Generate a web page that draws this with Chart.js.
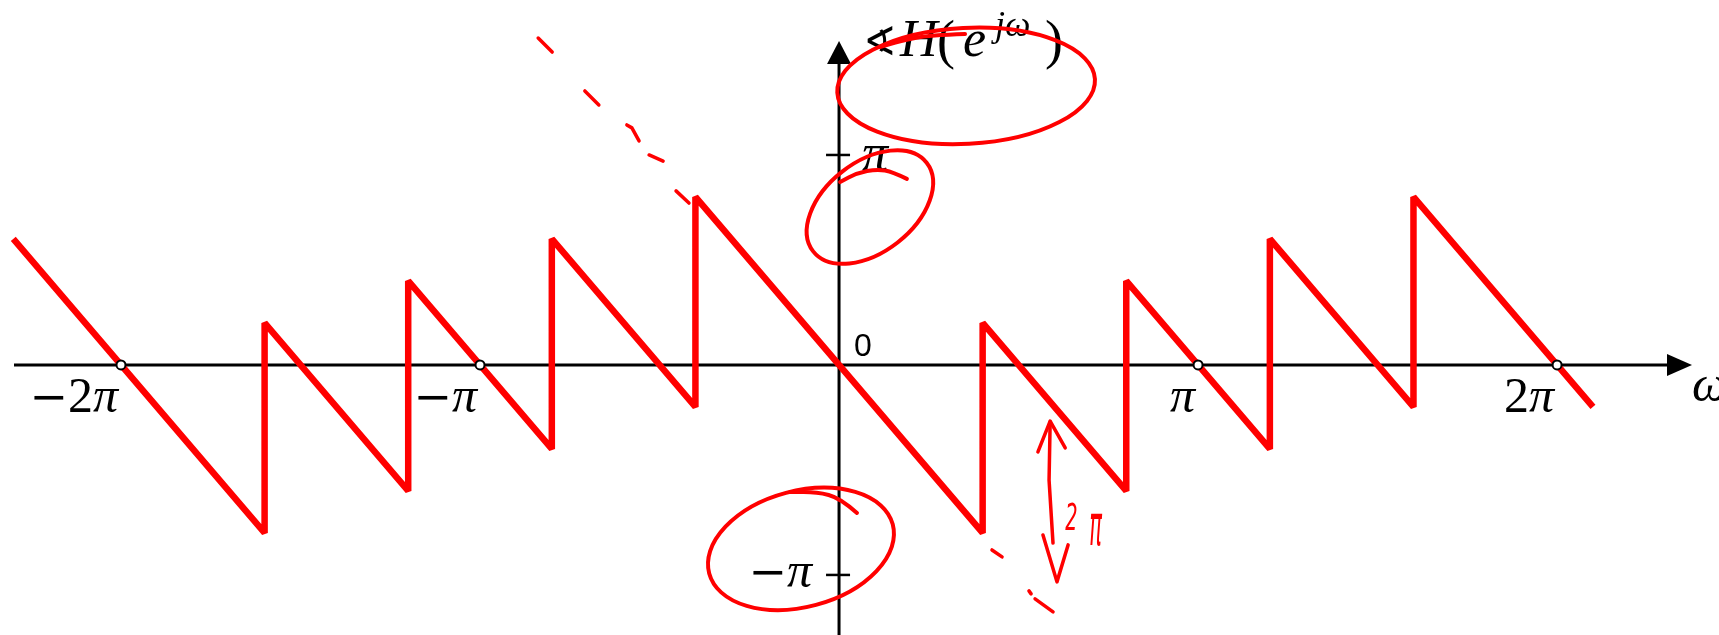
<!DOCTYPE html>
<html>
<head>
<meta charset="utf-8">
<script src="https://cdn.jsdelivr.net/npm/chart.js@4.4.0/dist/chart.umd.min.js"></script>
<style>
  html, body { margin: 0; padding: 0; background: #fff; overflow: hidden; }
</style>
</head>
<body>
<canvas id="phase" width="1719" height="635"></canvas>
<script>
// frequency and phase, both in multiples of pi
var omega = [-2.3, -1.6, -1.6, -1.2, -1.2, -0.8, -0.8, -0.4, -0.4, 0, 0.4, 0.4, 0.8, 0.8, 1.2, 1.2, 1.6, 1.6, 2.1];
var phase = [0.6, -0.8, 0.2, -0.6, 0.4, -0.4, 0.6, -0.2, 0.8, 0, -0.8, 0.2, -0.6, 0.4, -0.4, 0.6, -0.2, 0.8, -0.2];

var xTicks = [-2, -1, 1, 2];
var xTickLabels = ['\u22122\u03c0', '\u2212\u03c0', '\u03c0', '2\u03c0'];
var yTicks = [1, -1];
var yTickLabels = ['\u03c0', '\u2212\u03c0'];

var SERIF = '"Liberation Serif", "DejaVu Serif", serif';

// variables italic, digits upright, and a long minus sign
function fontFor(ch, size) {
  if (ch === '\u2212') return (size * 0.92) + 'px "DejaVu Serif", serif';
  if (/[\u03c0\u03c9Hej]/.test(ch)) return 'italic ' + size + 'px ' + SERIF;
  return size + 'px ' + SERIF;
}

function drawMath(ctx, text, x, y, size, align) {
  var parts = [];
  for (var i = 0; i < text.length; i++) {
    parts.push({ t: text[i], font: fontFor(text[i], size) });
  }
  var total = 0;
  parts.forEach(function (p) { ctx.font = p.font; p.w = ctx.measureText(p.t).width; total += p.w; });
  var cx = align === 'right' ? x - total : x;
  ctx.textAlign = 'left';
  ctx.textBaseline = 'alphabetic';
  parts.forEach(function (p) { ctx.font = p.font; ctx.fillText(p.t, cx, y); cx += p.w; });
}

var axesPlugin = {
  id: 'axes',
  beforeDatasetsDraw: function (chart) {
    var ctx = chart.ctx, xs = chart.scales.x, ys = chart.scales.y;
    var x0 = xs.getPixelForValue(0), y0 = ys.getPixelForValue(0);
    ctx.save();
    ctx.strokeStyle = '#000';
    ctx.fillStyle = '#000';
    ctx.lineWidth = 3;
    // horizontal axis with arrow
    ctx.beginPath();
    ctx.moveTo(14, y0);
    ctx.lineTo(1675, y0);
    ctx.stroke();
    ctx.beginPath();
    ctx.moveTo(1692, y0);
    ctx.lineTo(1667, y0 - 11);
    ctx.lineTo(1667, y0 + 11);
    ctx.closePath();
    ctx.fill();
    // vertical axis with arrow
    ctx.beginPath();
    ctx.moveTo(x0, chart.height);
    ctx.lineTo(x0, 60);
    ctx.stroke();
    ctx.beginPath();
    ctx.moveTo(x0, 41);
    ctx.lineTo(x0 - 12, 64);
    ctx.lineTo(x0 + 12, 64);
    ctx.closePath();
    ctx.fill();
    // tick marks on the vertical axis
    ctx.lineWidth = 2.5;
    yTicks.forEach(function (v) {
      var py = ys.getPixelForValue(v);
      ctx.beginPath();
      ctx.moveTo(x0 - 13, py);
      ctx.lineTo(x0 + 11, py);
      ctx.stroke();
    });
    ctx.restore();
  },
  afterDatasetsDraw: function (chart) {
    var ctx = chart.ctx, xs = chart.scales.x, ys = chart.scales.y;
    var x0 = xs.getPixelForValue(0), y0 = ys.getPixelForValue(0);
    ctx.save();
    ctx.fillStyle = '#000';
    // open circles and labels at multiples of pi
    xTicks.forEach(function (v, i) {
      var px = xs.getPixelForValue(v);
      ctx.beginPath();
      ctx.arc(px, y0, 4.5, 0, Math.PI * 2);
      ctx.fillStyle = '#fff';
      ctx.fill();
      ctx.lineWidth = 2;
      ctx.strokeStyle = '#000';
      ctx.stroke();
      ctx.fillStyle = '#000';
      drawMath(ctx, xTickLabels[i], px - 3, y0 + 47, 50, 'right');
    });
    // vertical axis labels
    drawMath(ctx, yTickLabels[0], x0 + 23, ys.getPixelForValue(yTicks[0]) + 15, 52, 'left');
    drawMath(ctx, yTickLabels[1], x0 - 27, ys.getPixelForValue(yTicks[1]) + 12, 50, 'right');
    // origin
    ctx.font = '32px "Liberation Sans", Arial, sans-serif';
    ctx.textAlign = 'left';
    ctx.fillText('0', x0 + 15, y0 - 9);
    // axis names
    drawMath(ctx, '\u03c9', 1692, y0 + 36, 50, 'left');
    ctx.font = '40px "DejaVu Sans", sans-serif';
    ctx.fillText('\u2222', x0 + 24, 55);
    drawMath(ctx, 'H', x0 + 61, 56, 52, 'left');
    drawMath(ctx, '(', x0 + 98, 58, 54, 'left');
    drawMath(ctx, 'e', x0 + 124, 56, 52, 'left');
    drawMath(ctx, 'j\u03c9', x0 + 156, 36, 36, 'left');
    drawMath(ctx, ')', x0 + 206, 58, 54, 'left');
    ctx.restore();
  }
};

// red pen marks on top of the plot
var loops = [
  { x: 0.354, y: 1.329, a: 129, b: 58, rot: -3 },
  { x: 0.086, y: 0.752, a: 72, b: 45, rot: -38 },
  { x: -0.106, y: -0.876, a: 95, b: 58, rot: -15 }
];
// loop tails are drawn smooth, the other marks as straight pieces
var tails = [
  [[0.351, 1.576], [0.253, 1.571], [0.170, 1.543], [0.114, 1.514]],
  [[0.189, 0.886], [0.150, 0.919], [0.106, 0.933], [0.050, 0.914], [0.003, 0.871]],
  [[0.050, -0.705], [0.003, -0.633], [-0.061, -0.605], [-0.136, -0.605]]
];
var strokes = [
  // dashes
  [[-0.838, 1.557], [-0.799, 1.490]],
  [[-0.708, 1.305], [-0.669, 1.238]],
  [[-0.591, 1.143], [-0.577, 1.129], [-0.557, 1.067]],
  [[-0.529, 1.000], [-0.490, 0.971]],
  [[-0.454, 0.829], [-0.418, 0.771]],
  [[0.426, -0.881], [0.454, -0.914]],
  [[0.529, -1.076], [0.535, -1.090]],
  [[0.546, -1.114], [0.596, -1.176]],
  // double arrow
  [[0.588, -0.271], [0.585, -0.548], [0.596, -0.848]],
  [[0.554, -0.414], [0.588, -0.267], [0.630, -0.395]],
  [[0.568, -0.810], [0.607, -1.033], [0.638, -0.857]]
];

var penPlugin = {
  id: 'pen',
  afterDraw: function (chart) {
    var ctx = chart.ctx, xs = chart.scales.x, ys = chart.scales.y;
    function px(p) { return [xs.getPixelForValue(p[0]), ys.getPixelForValue(p[1])]; }
    ctx.save();
    ctx.strokeStyle = '#ff0000';
    ctx.fillStyle = '#ff0000';
    ctx.lineCap = 'round';
    ctx.lineJoin = 'round';
    ctx.lineWidth = 4;
    loops.forEach(function (l) {
      ctx.beginPath();
      ctx.ellipse(xs.getPixelForValue(l.x), ys.getPixelForValue(l.y), l.a, l.b, l.rot * Math.PI / 180, 0, Math.PI * 2);
      ctx.stroke();
    });
    tails.forEach(function (s) {
      var pts = s.map(px);
      ctx.beginPath();
      ctx.moveTo(pts[0][0], pts[0][1]);
      for (var k = 1; k < pts.length - 1; k++) {
        var mx = (pts[k][0] + pts[k + 1][0]) / 2, my = (pts[k][1] + pts[k + 1][1]) / 2;
        ctx.quadraticCurveTo(pts[k][0], pts[k][1], mx, my);
      }
      var last = pts[pts.length - 1];
      ctx.lineTo(last[0], last[1]);
      ctx.stroke();
    });
    ctx.lineWidth = 3.5;
    strokes.forEach(function (s) {
      ctx.beginPath();
      s.map(px).forEach(function (p, k) {
        if (k === 0) ctx.moveTo(p[0], p[1]); else ctx.lineTo(p[0], p[1]);
      });
      ctx.stroke();
    });
    // handwritten 2π next to the double arrow
    ctx.font = 'oblique 36px "DejaVu Sans Condensed", sans-serif';
    ctx.textAlign = 'left';
    var p2 = px([0.630, -0.786]), pPi = px([0.697, -0.857]);
    ctx.save();
    ctx.translate(p2[0], p2[1]);
    ctx.scale(0.6, 1.05);
    ctx.fillText('2', 0, 0);
    ctx.restore();
    ctx.save();
    ctx.translate(pPi[0], pPi[1]);
    ctx.scale(0.65, 1.6);
    ctx.fillText('\u03c0', 0, 0);
    ctx.restore();
    ctx.restore();
  }
};

var points = omega.map(function (w, i) { return { x: w, y: phase[i] }; });

new Chart(document.getElementById('phase'), {
  type: 'line',
  data: {
    datasets: [{
      data: points,
      borderColor: '#ff0000',
      borderWidth: 6.5,
      borderJoinStyle: 'bevel',
      borderCapStyle: 'butt',
      pointRadius: 0,
      tension: 0,
      fill: false
    }]
  },
  options: {
    responsive: false,
    animation: false,
    layout: { padding: 0 },
    plugins: { legend: { display: false }, tooltip: { enabled: false } },
    scales: {
      x: { type: 'linear', min: -2.337, max: 2.451, display: false },
      y: { type: 'linear', min: -1.286, max: 1.738, display: false }
    }
  },
  plugins: [axesPlugin, penPlugin]
});
</script>
</body>
</html>
